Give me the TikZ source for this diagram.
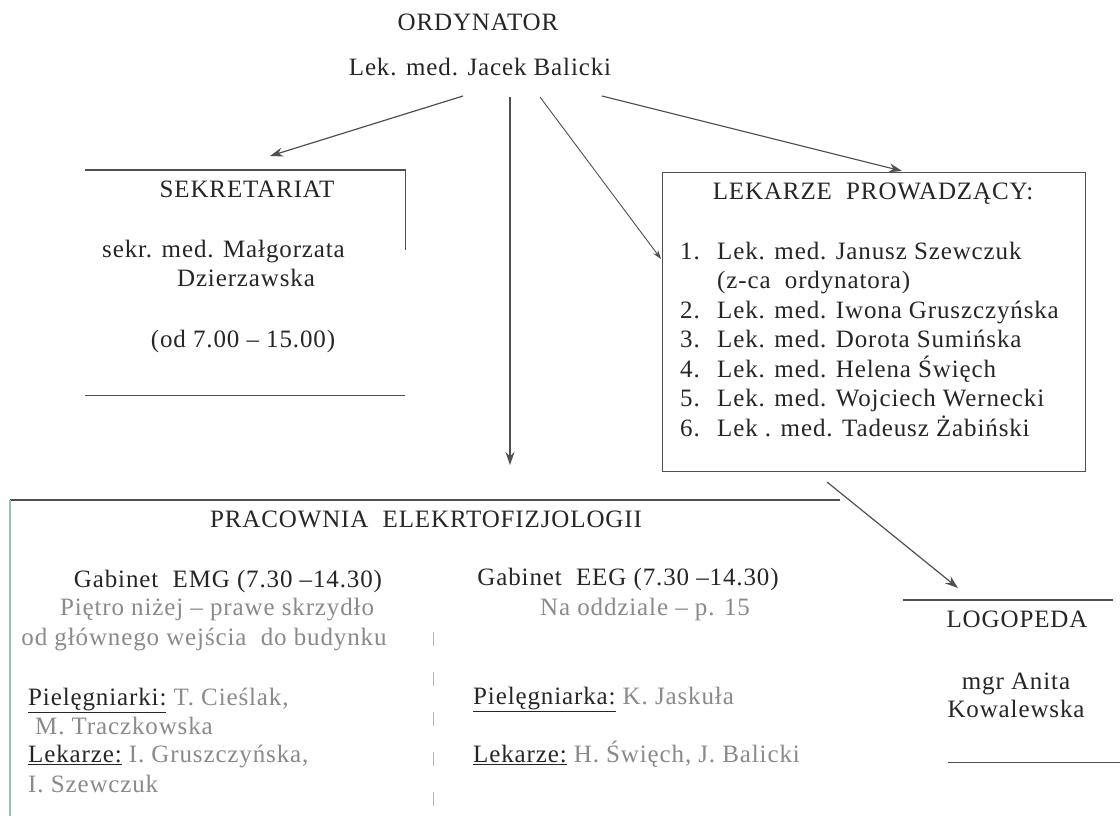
\documentclass[tikz,border=0pt]{standalone}
\usepackage{fontspec}
\setmainfont{Liberation Serif}[LetterSpace=3.5]
\usetikzlibrary{arrows.meta}
\definecolor{ink}{HTML}{262626}
\definecolor{faintink}{HTML}{8A8A8A}
\definecolor{lineink}{HTML}{505050}
\definecolor{edgeink}{HTML}{9DBDB5}
\begin{document}
\begin{tikzpicture}[x=1pt,y=-1pt,
  txt/.style={inner sep=0pt, text height=0.7em, text depth=0.22em, font=\fontsize{25}{29}\selectfont, text=ink},
  faint/.style={txt, text=faintink},
  ln/.style={draw=lineink, line width=1.2pt},
  arr/.style={draw=lineink, line width=1.2pt, -{Stealth[length=13pt,width=9pt]}},
  boxarea/.style={inner sep=0pt, anchor=north west}
]
\useasboundingbox (0,0) rectangle (1120,816);
\fill[white] (0,0) rectangle (1120,816);

% ---- ORDYNATOR
\node[txt] (ordt) at (478,28) {ORDYNATOR};
\node[txt] (ord) at (480,73) {Lek. med. Jacek Balicki};

% ---- SEKRETARIAT
\node[boxarea, minimum width=320pt, minimum height=225pt] (sek) at (85,170) {};
\draw[ln] (sek.north west) -- (sek.north east) -- ++(0,80);
\draw[ln] (sek.south west) -- (sek.south east);
\node[txt] (sekt) at (247,195) {SEKRETARIAT};
\node[txt, anchor=west] (sek1) at (102,255) {sekr. med. Małgorzata};
\node[txt] (sek2) at (246,284) {Dzierzawska};
\node[txt] (sek3) at (243,345) {(od 7.00 – 15.00)};

% ---- LEKARZE PROWADZĄCY
\node[boxarea, ln, minimum width=423pt, minimum height=299pt] (lek) at (662,172) {};
\node[txt] (lekt) at (873,197) {LEKARZE\ \ PROWADZĄCY:};
\foreach \n/\yy/\t in {1/257/{Lek. med. Janusz Szewczuk},
                       2/316/{Lek. med. Iwona Gruszczyńska},
                       3/345.5/{Lek. med. Dorota Sumińska},
                       4/375/{Lek. med. Helena Święch},
                       5/404.5/{Lek. med. Wojciech Wernecki},
                       6/434/{Lek . med. Tadeusz Żabiński}}{
  \node[txt, anchor=west] (num\n) at (680,\yy) {\n.};
  \node[txt, anchor=west] (doc\n) at (717,\yy) {\t};
}
\node[txt, anchor=west] (doc1b) at (717,286.5) {(z-ca\ \ ordynatora)};

% ---- PRACOWNIA
\node[boxarea, minimum width=830pt, minimum height=316pt] (prac) at (10,500) {};
\draw[ln] (prac.north west) -- (prac.north east);
\draw[draw=edgeink, line width=1.2pt] (prac.north west) -- (prac.south west);
\draw[draw=faintink!60, line width=1pt, dash pattern=on 14pt off 26pt] (433,632) -- (433,816);
\node[txt] (pract) at (426,525) {PRACOWNIA\ \ ELEKRTOFIZJOLOGII};

\node[txt] (emg1) at (228,585) {Gabinet\ \ EMG (7.30 –14.30)};
\node[faint] (emg2) at (217,613) {Piętro niżej – prawe skrzydło};
\node[faint] (emg3) at (204,643) {od głównego wejścia\ \ do budynku};
\node[txt, anchor=west] (emg4) at (28,703) {\underline{Pielęgniarki:} \textcolor{faintink}{T. Cieślak,}};
\node[faint, anchor=west] (emg5) at (35,732) {M. Traczkowska};
\node[txt, anchor=west] (emg6) at (28,760) {\underline{Lekarze:} \textcolor{faintink}{I. Gruszczyńska,}};
\node[faint, anchor=west] (emg7) at (28,790) {I. Szewczuk};

\node[txt] (eeg1) at (628,583) {Gabinet\ \ EEG (7.30 –14.30)};
\node[faint] (eeg2) at (645,613) {Na oddziale – p. 15};
\node[txt, anchor=west] (eeg3) at (473,702) {\underline{Pielęgniarka:} \textcolor{faintink}{K. Jaskuła}};
\node[txt, anchor=west] (eeg4) at (473,760) {\underline{Lekarze:} \textcolor{faintink}{H. Święch, J. Balicki}};

% ---- LOGOPEDA
\node[boxarea, minimum width=217pt, minimum height=162pt] (logo) at (903,600) {};
\draw[ln] (logo.north west) -- ++(210,0);
\draw[ln] ([xshift=45pt]logo.south west) -- (logo.south east);
\node[txt] (logot) at (1017,625) {LOGOPEDA};
\node[txt] (logo1) at (1016,687) {mgr Anita};
\node[txt] (logo2) at (1016,715) {Kowalewska};

% ---- connectors
\coordinate (o1) at (463,96);
\coordinate (o2) at (510,97);
\coordinate (o3) at (540,97);
\coordinate (o4) at (602,96);
\coordinate (t1) at (270,156);
\coordinate (t2) at (510,465);
\coordinate (t3) at (661,259);
\coordinate (t4) at (902,171);
\coordinate (l1) at (827,482);
\coordinate (t5) at (958,588);
\draw[arr] (o1) -- (t1);
\draw[arr] (o2) -- (t2);
\draw[draw=lineink, line width=0.9pt, -{Stealth[length=9pt,width=6pt]}] (o3) -- (t3);
\draw[arr] (o4) -- (t4);
\draw[arr] (l1) -- (t5);
\end{tikzpicture}
\end{document}
